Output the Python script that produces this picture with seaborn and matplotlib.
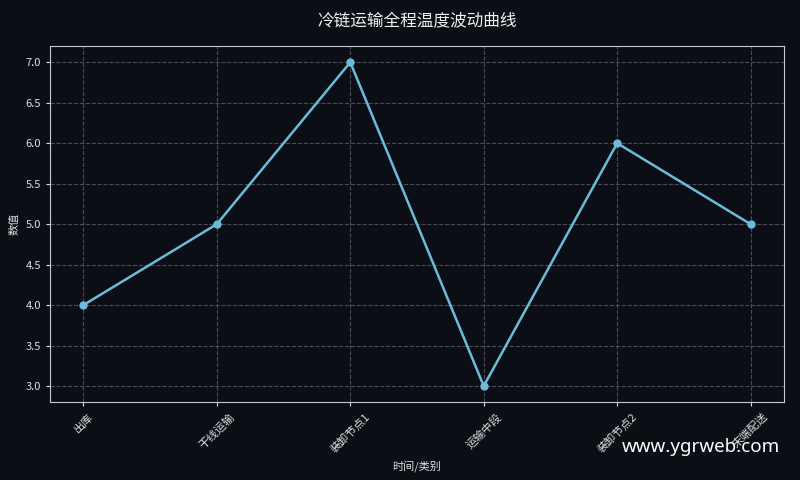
import seaborn as sns
import pandas as pd
import matplotlib.pyplot as plt

# 冷链运输 各环节温度
stages = ['出库', '干线运输', '装卸节点1', '运输中段', '装卸节点2', '末端配送']
temps = [4, 5, 7, 3, 6, 5]

df = pd.DataFrame({'stage': stages, 'temp': temps})

bg = '#0b0e14'
sns.set_style('dark')
plt.rcParams['font.family'] = ['Noto Sans CJK SC', 'DejaVu Sans']
plt.rcParams['axes.unicode_minus'] = False

fig, ax = plt.subplots(figsize=(8, 4.8), dpi=100)
fig.patch.set_facecolor(bg)
ax.set_facecolor(bg)

sns.lineplot(data=df, x='stage', y='temp', ax=ax, color='#6bbcd9',
             linewidth=1.8, marker='o', markersize=6, markeredgewidth=0)

ax.grid(True, color='#5a5e66', linestyle='--', linewidth=0.8, alpha=0.8)
for s in ax.spines.values():
    s.set_color('#c8c8c8')
    s.set_visible(True)
ax.tick_params(colors='#e0e0e0', labelsize=8, length=3, left=True, bottom=True)
plt.xticks(rotation=45)
ax.set_title('冷链运输全程温度波动曲线', color='#f0f0f0', fontsize=12, pad=14)
ax.set_xlabel('时间/类别', color='#e0e0e0', fontsize=8)
ax.set_ylabel('数值', color='#e0e0e0', fontsize=8)

plt.subplots_adjust(left=0.0625, right=0.98, top=0.904, bottom=0.162)
fig.text(0.975, 0.068, 'www.ygrweb.com', color='#ffffff', fontsize=13.5,
         ha='right', va='center', family=['Noto Sans', 'DejaVu Sans'])
plt.savefig('out.png', facecolor=bg)
